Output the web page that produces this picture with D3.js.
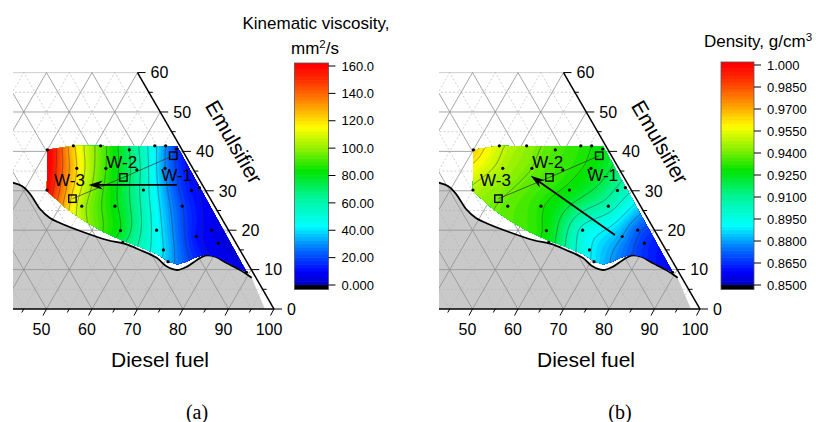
<!DOCTYPE html>
<meta charset="utf-8">
<script src="https://d3js.org/d3.v7.min.js"></script>
<style>
  body { margin: 0; background: #fff; }
  svg text { font-family: "Liberation Sans", Arial, sans-serif; fill: #000; }
</style>
<svg id="chart" width="816" height="422"></svg>
<script>
// measured compositions, wt.% (same points in both panels)
var pointDiesel = [30, 35.2, 41.2, 48, 53.1, 55.5, 58.3, 38.8, 45.2, 52.2, 58.2, 35, 56.2, 66.8, 68.2, 44.7, 52, 66.8, 56.3, 64.2, 76.3, 73.7, 79.4, 58.3, 68.2, 70.7, 89.3];
var pointEmuls  = [40.4, 41.4, 41.4, 40.4, 41.4, 41.4, 40.6, 35.7, 35.7, 35.3, 35.7, 30.2, 30.2, 30.1, 30.8, 26.1, 26.1, 26.1, 19.9, 20, 20, 18.4, 16.7, 16.9, 15, 12, 9.3];

// measured properties at those points
var viscosity = [165, 122, 95, 70, 42, 30, 18, 120, 90, 64, 30, 160, 56, 12, 10, 104, 82, 20, 80, 45, 8, 12, 6, 72, 40, 35, 4];
var density   = [0.966, 0.952, 0.944, 0.936, 0.932, 0.930, 0.927, 0.947, 0.940, 0.933, 0.928, 0.948, 0.928, 0.908, 0.905, 0.938, 0.931, 0.905, 0.928, 0.897, 0.872, 0.880, 0.866, 0.925, 0.891, 0.888, 0.858];

// outline of the studied (coloured) area
var areaDiesel = [30, 35.2, 58.1, 89.35, 84.5, 80.8, 78, 76.2, 74.6, 73.2, 71, 67.4, 62.8, 58.1, 52.9, 47, 41.9, 35.1];
var areaEmuls  = [40.4, 41.4, 41.24, 9.31, 11.6, 13.27, 13.9, 13.1, 11.9, 11.3, 11.9, 13.9, 15.7, 17.3, 19.5, 22.4, 25.3, 29.95];

// boundary of the grey zone
var edgeDiesel = [23.4, 29.0, 31.8, 35.9, 39.2, 42.05, 48.25, 54.54, 59, 63.07, 67.82, 70.81, 73.73, 75.51, 76.86, 78.08, 80.4, 83.87, 87.58, 91.13];
var edgeEmuls  = [32.74, 31.22, 29.19, 25.38, 23.1, 21.83, 19.54, 17.51, 16.5, 14.97, 12.94, 10.91, 9.9, 10.74, 12.44, 13.53, 13.27, 11.6, 9.9, 7.94];

// samples
var sampleNames  = ["W-1", "W-2", "W-3"];
var sampleDiesel = [58.4, 50.2, 41.7];
var sampleEmuls  = [38.9, 33.4, 28.0];

// arrows [diesel, emulsifier] from -> to
var arrowA = [[62.9, 31.5], [43.5, 31.5]];
var arrowB = [[71.9, 18.8], [45.9, 33.8]];

var dieselTicks = [50, 60, 70, 80, 90, 100];
var emulsTicks = [0, 10, 20, 30, 40, 50, 60];
var viscTicks = [0, 20, 40, 60, 80, 100, 120, 140, 160];
var densTicks = [0.85, 0.865, 0.88, 0.895, 0.91, 0.925, 0.94, 0.955, 0.97, 0.985, 1.0];

var svg = d3.select("#chart");
var defs = svg.append("defs");

var side = 455, cornerX = 274, cornerY = 309, leftX = 13;
var xS = d3.scaleLinear().domain([0, 100]).range([cornerX, cornerX - side]);
var yS = d3.scaleLinear().domain([0, 100]).range([cornerY, cornerY - side * Math.sqrt(3) / 2]);
function proj(d, e) { return [xS(100 - d - e / 2), yS(e)]; }

var stops = [[0, "#0000c0"], [0.06, "#0000ff"], [0.17, "#0078ff"], [0.27, "#00ffff"], [0.4, "#00f59a"],
             [0.52, "#00e400"], [0.62, "#8cf000"], [0.72, "#ffff00"], [0.82, "#ff9a00"], [0.92, "#ff3c00"], [1, "#ff0000"]];
var rainbow = d3.scaleLinear().domain(stops.map(s => s[0])).range(stops.map(s => s[1])).clamp(true);

function solveLinear(A, b) {
  var n = b.length;
  for (var c = 0; c < n; c++) {
    var p = c;
    for (var r = c + 1; r < n; r++) if (Math.abs(A[r][c]) > Math.abs(A[p][c])) p = r;
    var t = A[c]; A[c] = A[p]; A[p] = t;
    var tb = b[c]; b[c] = b[p]; b[p] = tb;
    for (r = c + 1; r < n; r++) {
      var f = A[r][c] / A[c][c];
      for (var k = c; k < n; k++) A[r][k] -= f * A[c][k];
      b[r] -= f * b[c];
    }
  }
  var x = new Array(n).fill(0);
  for (var i = n - 1; i >= 0; i--) {
    var s = b[i];
    for (var k2 = i + 1; k2 < n; k2++) s -= A[i][k2] * x[k2];
    x[i] = s / A[i][i];
  }
  return x;
}

// thin plate spline through the measured points
function thinPlate(pts, vals, lambda) {
  var n = pts.length, N = n + 3;
  var A = d3.range(N).map(() => new Array(N).fill(0)), b = new Array(N).fill(0);
  var phi = r => r > 1e-9 ? r * r * Math.log(r) : 0;
  pts.forEach((p, i) => {
    pts.forEach((q, j) => { A[i][j] = phi(Math.hypot(p[0] - q[0], p[1] - q[1])); });
    A[i][i] += lambda;
    A[i][n] = 1; A[i][n + 1] = p[0]; A[i][n + 2] = p[1];
    A[n][i] = 1; A[n + 1][i] = p[0]; A[n + 2][i] = p[1];
    b[i] = vals[i];
  });
  var w = solveLinear(A, b);
  return function(x, y) {
    var s = w[n] + w[n + 1] * x + w[n + 2] * y;
    for (var i = 0; i < n; i++) s += w[i] * phi(Math.hypot(x - pts[i][0], y - pts[i][1]));
    return s;
  };
}

function panel(key, dx, values, lo, hi, lineStep, arrow) {
  var color = v => rainbow((v - lo) / (hi - lo));
  var g = svg.append("g").attr("transform", "translate(" + dx + ",0)");

  var clipPts = [[leftX, yS(60)], proj(40, 60), proj(100, 0), [leftX, yS(0)]];
  defs.append("clipPath").attr("id", "clip-" + key)
    .append("polygon").attr("points", clipPts.join(" "));
  var plot = g.append("g").attr("clip-path", "url(#clip-" + key + ")");

  // grey zone
  var edge = edgeDiesel.map((d, i) => proj(d, edgeEmuls[i]));
  var smooth = d3.line().curve(d3.curveCatmullRom);
  var greyPath = smooth(edge) + "L" + [proj(98, 0), proj(20, 0), proj(20, edgeEmuls[0])].join("L") + "Z";
  plot.append("path").attr("d", greyPath).attr("fill", "#c9c9c9");

  // grid
  var lines = [];
  d3.range(5, 100, 5).forEach(k => {
    var major = k % 10 === 0;
    lines.push([proj(100 - k, k), proj(0, k), major]);
    lines.push([proj(k, 0), proj(k, 100 - k), major]);
    lines.push([proj(100 - k, 0), proj(0, 100 - k), major]);
  });
  plot.selectAll("line.grid").data(lines).enter().append("line")
    .attr("x1", d => d[0][0]).attr("y1", d => d[0][1])
    .attr("x2", d => d[1][0]).attr("y2", d => d[1][1])
    .attr("stroke", d => d[2] ? "#8f8f8f" : "#b0b0b0")
    .attr("stroke-width", d => d[2] ? 0.8 : 0.6)
    .attr("stroke-dasharray", d => d[2] ? null : "2,2");

  // boundary curve
  plot.append("path").attr("d", smooth(edge)).attr("fill", "none")
    .attr("stroke", "#000").attr("stroke-width", 1.8);

  // coloured field
  var area = areaDiesel.map((d, i) => proj(d, areaEmuls[i]));
  defs.append("clipPath").attr("id", "area-" + key)
    .append("polygon").attr("points", area.join(" "));
  var pts = pointDiesel.map((d, i) => proj(d, pointEmuls[i]));
  var f = thinPlate(pts.map(p => [p[0] / 100, p[1] / 100]), values, 0.002);
  var x0 = Math.floor(d3.min(area, p => p[0])) - 3, x1 = Math.ceil(d3.max(area, p => p[0])) + 3;
  var y0 = Math.floor(d3.min(area, p => p[1])) - 3, y1 = Math.ceil(d3.max(area, p => p[1])) + 3;
  var nx = x1 - x0, ny = y1 - y0, grid = new Array(nx * ny);
  for (var j = 0; j < ny; j++)
    for (var i = 0; i < nx; i++)
      grid[i + j * nx] = f((x0 + i + 0.5) / 100, (y0 + j + 0.5) / 100);

  var step = (hi - lo) / 64;
  var bands = d3.contours().size([nx, ny]).thresholds(d3.range(lo - 10 * step, hi + step / 2, step))(grid);
  var gp = d3.geoPath(d3.geoIdentity().translate([x0, y0]));
  var field = g.append("g").attr("clip-path", "url(#area-" + key + ")");
  field.selectAll("path.band").data(bands).enter().append("path")
    .attr("d", gp).attr("fill", d => color(d.value + step / 2))
    .attr("stroke", d => color(d.value + step / 2)).attr("stroke-width", 0.3);
  var isolines = d3.contours().size([nx, ny]).thresholds(d3.range(lo + lineStep, hi, lineStep))(grid);
  field.selectAll("path.iso").data(isolines).enter().append("path")
    .attr("d", gp).attr("fill", "none").attr("stroke", "#333").attr("stroke-opacity", 0.75)
    .attr("stroke-width", 0.6);

  // dilution line through the samples
  var sp = sampleDiesel.map((d, i) => proj(d, sampleEmuls[i]));
  g.append("path").attr("d", d3.line()(sp)).attr("fill", "none")
    .attr("stroke", "#333").attr("stroke-width", 0.7);

  g.selectAll("circle.pt").data(pts).enter().append("circle")
    .attr("cx", d => d[0]).attr("cy", d => d[1]).attr("r", 1.6).attr("fill", "#000");

  g.selectAll("rect.smp").data(sp).enter().append("rect")
    .attr("x", d => d[0] - 3.7).attr("y", d => d[1] - 3.7).attr("width", 7.4).attr("height", 7.4)
    .attr("fill", "none").attr("stroke", "#000").attr("stroke-width", 1.4);

  var labelOff = [[3.4, 19.3], [-1.6, -15.6], [-3, -18.3]];
  g.selectAll("text.smp").data(sp).enter().append("text")
    .attr("x", (d, i) => d[0] + labelOff[i][0]).attr("y", (d, i) => d[1] + labelOff[i][1])
    .attr("dy", "0.36em").attr("text-anchor", "middle").attr("font-size", 17)
    .text((d, i) => sampleNames[i]);

  // arrow
  var a0 = proj(arrow[0][0], arrow[0][1]), a1 = proj(arrow[1][0], arrow[1][1]);
  var len = Math.hypot(a1[0] - a0[0], a1[1] - a0[1]);
  var ux = (a1[0] - a0[0]) / len, uy = (a1[1] - a0[1]) / len;
  g.append("line").attr("x1", a0[0]).attr("y1", a0[1])
    .attr("x2", a1[0] - ux * 10).attr("y2", a1[1] - uy * 10)
    .attr("stroke", "#000").attr("stroke-width", 1.8);
  var hb = [a1[0] - ux * 14, a1[1] - uy * 14];
  g.append("polygon").attr("points", [a1, [hb[0] - uy * 4.5, hb[1] + ux * 4.5], [a1[0] - ux * 10, a1[1] - uy * 10], [hb[0] + uy * 4.5, hb[1] - ux * 4.5]].join(" "))
    .attr("fill", "#000");

  // axes
  g.append("line").attr("x1", leftX).attr("y1", yS(0)).attr("x2", cornerX).attr("y2", yS(0))
    .attr("stroke", "#000").attr("stroke-width", 1.5);
  var top = proj(40, 60);
  g.append("line").attr("x1", cornerX).attr("y1", yS(0)).attr("x2", top[0]).attr("y2", top[1])
    .attr("stroke", "#000").attr("stroke-width", 1.5);

  var bottomTicks = d3.range(45, 101, 5);
  g.selectAll("line.bt").data(bottomTicks).enter().append("line")
    .attr("x1", d => proj(d, 0)[0]).attr("y1", yS(0))
    .attr("x2", d => proj(d, 0)[0] - (d % 10 ? 2 : 3.5)).attr("y2", d => yS(0) + (d % 10 ? 3.5 : 6.5))
    .attr("stroke", "#000").attr("stroke-width", 1);
  g.selectAll("text.bt").data(dieselTicks).enter().append("text")
    .attr("x", d => proj(d, 0)[0] - 5).attr("y", yS(0) + 26)
    .attr("text-anchor", "middle").attr("font-size", 16).text(d => d);

  var rightTicks = d3.range(0, 61, 5);
  g.selectAll("line.rt").data(rightTicks).enter().append("line")
    .attr("x1", d => proj(100 - d, d)[0]).attr("y1", d => yS(d))
    .attr("x2", d => proj(100 - d, d)[0] + (d % 10 ? 4 : 8)).attr("y2", d => yS(d))
    .attr("stroke", "#000").attr("stroke-width", 1);
  g.selectAll("text.rt").data(emulsTicks).enter().append("text")
    .attr("x", d => proj(100 - d, d)[0] + 13).attr("y", d => yS(d)).attr("dy", "0.36em")
    .attr("font-size", 16).text(d => d);

  var ea = proj(100 - 36.2, 36.2);
  g.append("text")
    .attr("transform", "translate(" + (ea[0] + 0.866 * 49) + "," + (ea[1] - 0.5 * 49) + ") rotate(60)")
    .attr("text-anchor", "middle").attr("dy", "0.36em").attr("font-size", 21).text("Emulsifier");

  g.append("text").attr("x", 160).attr("y", 367).attr("text-anchor", "middle")
    .attr("font-size", 21).text("Diesel fuel");
}

function colorbar(x, w, lo, hi, yLo, yHi, ticks) {
  var cy = d3.scaleLinear().domain([lo, hi]).range([yLo, yHi]);
  var step = (hi - lo) / 64;
  var g = svg.append("g");
  g.selectAll("rect.cb").data(d3.range(lo, hi - step / 2, step)).enter().append("rect")
    .attr("x", x).attr("width", w)
    .attr("y", d => cy(d + step) - 0.3).attr("height", d => cy(d) - cy(d + step) + 0.6)
    .attr("fill", d => rainbow((d + step / 2 - lo) / (hi - lo)));
  g.append("rect").attr("x", x).attr("width", w).attr("y", yHi - 3).attr("height", 3.3).attr("fill", "#ff0000");
  g.append("rect").attr("x", x).attr("width", w).attr("y", yLo).attr("height", 4.5).attr("fill", "#000");
  g.append("rect").attr("x", x).attr("width", w).attr("y", yHi - 3).attr("height", yLo + 4.5 - yHi + 3)
    .attr("fill", "none").attr("stroke", "#555").attr("stroke-width", 0.8);
  g.selectAll("line.ct").data(ticks).enter().append("line")
    .attr("x1", x + w).attr("x2", x + w + 7).attr("y1", d => cy(d)).attr("y2", d => cy(d))
    .attr("stroke", "#000").attr("stroke-width", 1);
  g.selectAll("text.ct").data(ticks).enter().append("text")
    .attr("x", x + w + 13).attr("y", d => cy(d)).attr("dy", "0.36em")
    .attr("font-size", 13).text(d => d3.format(".4r")(d));
}

panel("a", 0, viscosity, 0, 160, 10, arrowA);
panel("b", 426, density, 0.85, 1.0, 0.01, arrowB);

colorbar(294.5, 34, 0, 160, 285, 66, viscTicks);
colorbar(721, 33, 0.85, 1.0, 285, 65, densTicks);

// colour-bar titles
var t1 = svg.append("text").attr("x", 316).attr("y", 29).attr("text-anchor", "middle").attr("font-size", 17);
t1.text("Kinematic viscosity,");
var t2 = svg.append("text").attr("x", 315).attr("y", 54).attr("text-anchor", "middle").attr("font-size", 17);
t2.append("tspan").text("mm");
t2.append("tspan").attr("dy", -6).attr("font-size", 11.5).text("2");
t2.append("tspan").attr("dy", 6).text("/s");
var t3 = svg.append("text").attr("x", 758).attr("y", 47).attr("text-anchor", "middle").attr("font-size", 17);
t3.append("tspan").text("Density, g/cm");
t3.append("tspan").attr("dy", -6).attr("font-size", 11.5).text("3");

svg.append("text").attr("x", 197).attr("y", 419).attr("text-anchor", "middle")
  .style("font-family", "'Liberation Serif', 'Times New Roman', serif").attr("font-size", 20).text("(a)");
svg.append("text").attr("x", 620).attr("y", 419).attr("text-anchor", "middle")
  .style("font-family", "'Liberation Serif', 'Times New Roman', serif").attr("font-size", 20).text("(b)");
</script>
